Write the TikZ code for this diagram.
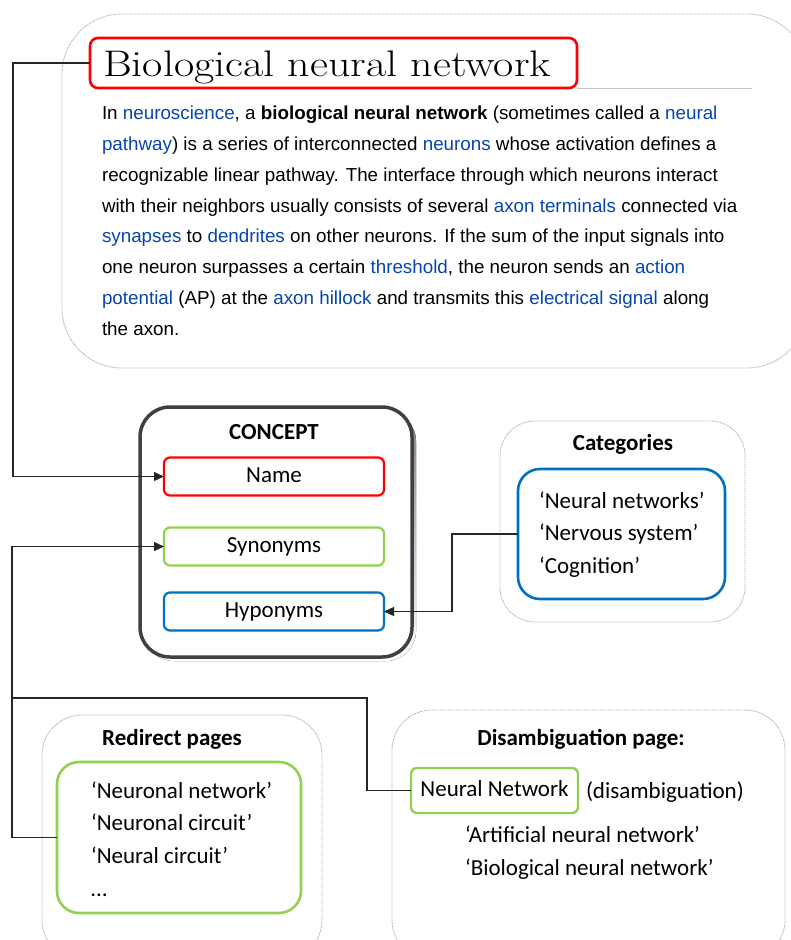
\documentclass[tikz,border=0pt]{standalone}
\usepackage{fontspec}
\setsansfont{Liberation Sans}
\newfontfamily\calfont{Carlito}
\usetikzlibrary{arrows.meta}
\definecolor{linkblue}{HTML}{0645AD}
\definecolor{boxred}{HTML}{FF0000}
\definecolor{boxgreen}{HTML}{92D050}
\definecolor{boxblue}{HTML}{0070C0}
\definecolor{frame}{HTML}{404040}
\definecolor{shade}{HTML}{A9B6C9}
\newcommand{\lk}[1]{\textcolor{linkblue}{#1}}
\begin{document}
\begin{tikzpicture}[x=1pt,y=-1pt,
  every node/.style={inner sep=0pt, outer sep=0pt},
  group/.style={draw=gray!65, line width=0.8pt, dash pattern=on 0.9pt off 0.7pt, rounded corners=#1},
  group/.default=40pt,
  item/.style={draw=#1, line width=2.2pt, rounded corners=6pt, minimum width=220pt, minimum height=38pt,
    font=\calfont\fontsize{23}{27}\selectfont, text height=15pt, text depth=4pt},
  list/.style={draw=#1, line width=2.6pt, rounded corners=22pt},
  lbl/.style={font=\calfont\fontsize{23}{27}\selectfont, anchor=base west},
  head/.style={font=\calfont\bfseries\fontsize{23}{27}\selectfont, anchor=base},
  body/.style={font=\sffamily\fontsize{18.8}{22}\selectfont, anchor=base west},
  conn/.style={draw=black!85, line width=1.4pt},
  arr/.style={conn, -{Triangle[length=10pt,width=9pt]}}
]
\useasboundingbox (0,0) rectangle (791,940);

% article extract
\node[group=60pt, minimum width=745pt, minimum height=354pt] (wiki) at (434.5,191) {};
\node[draw=boxred, line width=2.6pt, rounded corners=8pt, minimum width=487pt, minimum height=50pt] (title) at (333.5,63) {};
\node[anchor=base west, font=\fontsize{37}{40}\selectfont] (titletext) at (103,76) {\scalebox{1.19}[1]{Biological neural network}};
\draw[gray!45, line width=1pt] (title.south east) -- ++(175,0);

\node[body] (l1) at (102,119) {In \lk{neuroscience}, a \textbf{biological neural network} (sometimes called a \lk{neural}};
\node[body] (l2) at (102,150) {\lk{pathway}) is a series of interconnected \lk{neurons} whose activation defines a};
\node[body] (l3) at (102,181) {recognizable linear pathway. The interface through which neurons interact};
\node[body] (l4) at (102,212) {with their neighbors usually consists of several \lk{axon terminals} connected via};
\node[body] (l5) at (102,242) {\lk{synapses} to \lk{dendrites} on other neurons. If the sum of the input signals into};
\node[body] (l6) at (102,273) {one neuron surpasses a certain \lk{threshold}, the neuron sends an \lk{action}};
\node[body] (l7) at (102,304) {\lk{potential} (AP) at the \lk{axon hillock} and transmits this \lk{electrical signal} along};
\node[body] (l8) at (102,335) {the axon.};

% concept record
\fill[shade, rounded corners=30pt] (144,411) rectangle (416,661);
\node[draw=frame, fill=white, line width=3.5pt, rounded corners=30pt, minimum width=272pt, minimum height=250pt] (concept) at (276,532) {};
\node[head] (concepttitle) at (274,439) {CONCEPT};
\node[item=boxred] (name) at (274,476.5) {Name};
\node[item=boxgreen] (syn) at (274,546.5) {Synonyms};
\node[item=boxblue] (hypo) at (274,611.5) {Hyponyms};

% categories
\node[group=35pt, minimum width=245pt, minimum height=201pt] (cats) at (622.5,521.5) {};
\node[head] (catstitle) at (623,450) {Categories};
\node[list=boxblue, minimum width=207pt, minimum height=130pt] (catlist) at (621.5,534) {};
\node[lbl] (c1) at (539,508) {‘Neural networks’};
\node[lbl] (c2) at (539,540.5) {‘Nervous system’};
\node[lbl] (c3) at (539,573) {‘Cognition’};

% redirect pages
\node[group=40pt, minimum width=280pt, minimum height=245pt] (redirect) at (182,837.5) {};
\node[head] (redirecttitle) at (172,745) {Redirect pages};
\node[list=boxgreen, minimum width=244pt, minimum height=151pt] (redlist) at (179,837.5) {};
\node[lbl] (r1) at (91,798) {‘Neuronal network’};
\node[lbl] (r2) at (91,830.5) {‘Neuronal circuit’};
\node[lbl] (r3) at (91,863) {‘Neural circuit’};
\node[lbl] (r4) at (91,896) {…};

% disambiguation page
\node[group=40pt, minimum width=393pt, minimum height=250pt] (disamb) at (588.5,835) {};
\node[head] (disambtitle) at (581,745) {Disambiguation page:};
\node[item=boxgreen, rounded corners=6pt, line width=2.4pt, minimum width=167pt, minimum height=45pt] (nn) at (494.5,790.5) {Neural Network};
\node[lbl] (nnnote) at (586,798) {(disambiguation)};
\node[lbl] (d1) at (465,842) {‘Artificial neural network’};
\node[lbl] (d2) at (465,875) {‘Biological neural network’};

% connectors
\draw[arr] (title.west) -- ++(-77,0) |- (name.west);
\draw[arr] (redlist.west) -- ++(-45,0) coordinate (rbend) |- (syn.west);
\coordinate (split) at (rbend |- 0,698);
\draw[conn] (split) -- ++(355,0) |- (nn.west);
\draw[arr] (catlist.west) -- ++(-66,0) |- (hypo.east);
\end{tikzpicture}
\end{document}
